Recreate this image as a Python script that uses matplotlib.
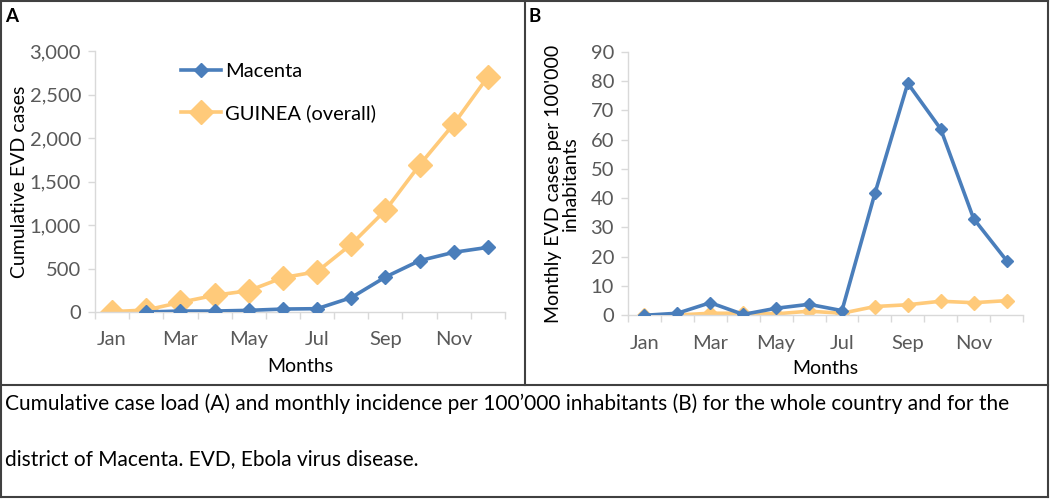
import numpy as np
import matplotlib
matplotlib.use("Agg")
import matplotlib.pyplot as plt
from matplotlib.lines import Line2D

plt.rcParams['font.family'] = ['Lato', 'DejaVu Sans']

months = ['Jan', 'Feb', 'Mar', 'Apr', 'May', 'Jun', 'Jul', 'Aug', 'Sep', 'Oct', 'Nov', 'Dec']
month_labels = ['Jan', '', 'Mar', '', 'May', '', 'Jul', '', 'Sep', '', 'Nov', '']

# Panel A: cumulative EVD cases
macenta_cum = [np.nan, 0, 11, 11, 19, 34, 38, 165, 402, 590, 686, 743]
guinea_cum = [4, 23, 111, 192, 245, 395, 464, 778, 1169, 1690, 2161, 2705]

# Panel B: monthly EVD cases per 100'000 inhabitants
macenta_inc = [0, 0.7, 4.3, 0.3, 2.4, 3.75, 1.6, 41.6, 79.2, 63.6, 33.0, 18.7]
guinea_inc = [0, 0.1, 0.7, 0.7, 0.5, 1.4, 0.7, 3.0, 3.6, 4.8, 4.3, 5.0]

BLUE = '#4A7EBB'
ORANGE = '#FFCA7A'
TICKC = '#595959'
SPINEC = '#D9D9D9'

W, H = 1050, 499
fig = plt.figure(figsize=(W / 100, H / 100), dpi=100)


def fx(px):
    return px / W


def fy(py):
    return 1 - py / H


def style_axes(ax, ymax, ystep, fmt, xlab_y):
    x = np.arange(len(months))
    ax.set_xlim(-0.5, len(months) - 0.5)
    ax.set_ylim(0, ymax)
    ax.set_xticks(np.arange(-0.5, len(months)), labels=[''] * (len(months) + 1))
    ax.set_xticks(x, labels=month_labels, minor=True)
    ax.tick_params(axis='x', which='major', length=5, width=1, color=SPINEC, direction='out')
    ax.tick_params(axis='x', which='minor', length=0, pad=14, labelsize=14.5, labelcolor=TICKC)
    yt = np.arange(0, ymax + 0.1, ystep)
    ax.set_yticks(yt, labels=[fmt(v) for v in yt])
    ax.tick_params(axis='y', length=5, width=1, color=SPINEC, direction='out', pad=5,
                   labelsize=14.5, labelcolor=TICKC)
    for s in ['top', 'right']:
        ax.spines[s].set_visible(False)
    for s in ['left', 'bottom']:
        ax.spines[s].set_color(SPINEC)
        ax.spines[s].set_linewidth(1)
    ax.set_xlabel('Months', fontsize=14, color='black')
    ax.xaxis.set_label_coords(0.5, xlab_y)
    ax.xaxis.label.set_va('center')


x = np.arange(len(months))

# Panel A
axA = fig.add_axes([fx(95), fy(312), fx(505) - fx(95), fy(51) - fy(312)])
axA.plot(x, macenta_cum, color=BLUE, lw=2.6, marker='D', ms=7.5, label='Macenta', zorder=3)
axA.plot(x, guinea_cum, color=ORANGE, lw=2.6, marker='D', ms=12, label='GUINEA (overall)', zorder=2)
style_axes(axA, 3000, 500, lambda v: f'{int(v):,}', (312 - 367) / 261)
axA.set_ylabel('Cumulative EVD cases', fontsize=14, color='black')
axA.yaxis.set_label_coords((20 - 95) / 410, 0.5)
axA.yaxis.label.set_va('center')
axA.legend(loc='upper left', bbox_to_anchor=(0.19, 0.985), frameon=False, fontsize=14.5,
           handlelength=2.0, labelspacing=1.2, handletextpad=0.2, borderaxespad=0)

# Panel B
axB = fig.add_axes([fx(628), fy(315.3), fx(1023) - fx(628), fy(51.7) - fy(315.3)])
axB.plot(x, guinea_inc, color=ORANGE, lw=2.6, marker='D', ms=7.5, zorder=2)
axB.plot(x, macenta_inc, color=BLUE, lw=2.6, marker='D', ms=6.5, zorder=3)
style_axes(axB, 90, 10, lambda v: f'{int(v)}', (315.3 - 368) / 263.6)
axB.set_ylabel("Monthly EVD cases per 100'000\ninhabitants", fontsize=14, color='black',
               linespacing=1.05)
axB.yaxis.set_label_coords((562 - 628) / 395, 0.5)
axB.yaxis.label.set_va('center')

# Panel letters
fig.text(fx(5), fy(16), 'A', fontsize=13.5, fontweight='bold', va='center', ha='left')
fig.text(fx(529), fy(16), 'B', fontsize=13.5, fontweight='bold', va='center', ha='left')

# Caption
cap1 = 'Cumulative case load (A) and monthly incidence per 100\u2019000 inhabitants (B) for the whole country and for the'
cap2 = 'district of Macenta. EVD, Ebola virus disease.'
fig.text(fx(5), fy(404), cap1, fontsize=15, va='center', ha='left')
fig.text(fx(5), fy(459), cap2, fontsize=15, va='center', ha='left')

# Frame lines
BORDER = '#404040'
lines = [
    ((1, 1048), (1, 1)),
    ((1, 1048), (497, 497)),
    ((1, 1), (1, 497)),
    ((1048, 1048), (1, 497)),
    ((1, 1048), (385, 385)),
    ((525, 525), (1, 385)),
]
for xs, ys in lines:
    fig.add_artist(Line2D([fx(xs[0]), fx(xs[1])], [fy(ys[0]), fy(ys[1])],
                          transform=fig.transFigure, color=BORDER, lw=1.5))

fig.savefig('out.png', dpi=100)
